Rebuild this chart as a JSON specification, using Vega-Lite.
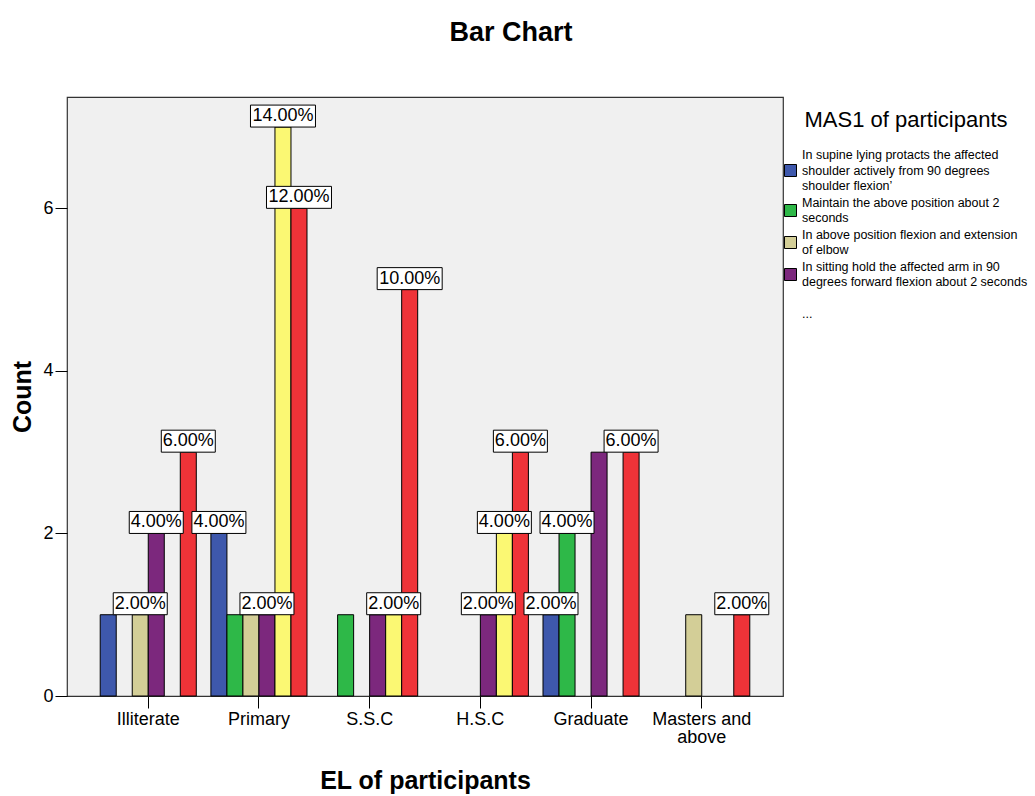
{
  "$schema": "https://vega.github.io/schema/vega-lite/v6.json",
  "width": 716,
  "height": 599,
  "autosize": {"type": "none"},
  "padding": {"left": 67, "top": 97, "right": 252, "bottom": 100},
  "background": "white",
  "title": {"text": "Bar Chart", "fontSize": 27, "fontWeight": "bold", "color": "black", "anchor": "middle", "frame": "group", "dx": 86, "baseline": "alphabetic", "offset": 29},
  "data": {"values": [
    {"el": "Illiterate", "mas": "In supine lying protacts the affected shoulder actively from 90 degrees shoulder flexion", "count": 1, "label": ""},
    {"el": "Illiterate", "mas": "In above position flexion and extension of elbow", "count": 1, "label": "2.00%"},
    {"el": "Illiterate", "mas": "In sitting hold the affected arm in 90 degrees forward flexion about 2 seconds", "count": 2, "label": "4.00%"},
    {"el": "Illiterate", "mas": "In standing hand against wall maintain arm position while turning body toward wall", "count": 3, "label": "6.00%"},
    {"el": "Primary", "mas": "In supine lying protacts the affected shoulder actively from 90 degrees shoulder flexion", "count": 2, "label": "4.00%"},
    {"el": "Primary", "mas": "Maintain the above position about 2 seconds", "count": 1, "label": ""},
    {"el": "Primary", "mas": "In above position flexion and extension of elbow", "count": 1, "label": ""},
    {"el": "Primary", "mas": "In sitting hold the affected arm in 90 degrees forward flexion about 2 seconds", "count": 1, "label": "2.00%"},
    {"el": "Primary", "mas": "In sitting lift the affected arm to above position hold 10 seconds and lower it", "count": 7, "label": "14.00%"},
    {"el": "Primary", "mas": "In standing hand against wall maintain arm position while turning body toward wall", "count": 6, "label": "12.00%"},
    {"el": "S.S.C", "mas": "Maintain the above position about 2 seconds", "count": 1, "label": ""},
    {"el": "S.S.C", "mas": "In sitting hold the affected arm in 90 degrees forward flexion about 2 seconds", "count": 1, "label": ""},
    {"el": "S.S.C", "mas": "In sitting lift the affected arm to above position hold 10 seconds and lower it", "count": 1, "label": "2.00%"},
    {"el": "S.S.C", "mas": "In standing hand against wall maintain arm position while turning body toward wall", "count": 5, "label": "10.00%"},
    {"el": "H.S.C", "mas": "In sitting hold the affected arm in 90 degrees forward flexion about 2 seconds", "count": 1, "label": "2.00%"},
    {"el": "H.S.C", "mas": "In sitting lift the affected arm to above position hold 10 seconds and lower it", "count": 2, "label": "4.00%"},
    {"el": "H.S.C", "mas": "In standing hand against wall maintain arm position while turning body toward wall", "count": 3, "label": "6.00%"},
    {"el": "Graduate", "mas": "In supine lying protacts the affected shoulder actively from 90 degrees shoulder flexion", "count": 1, "label": "2.00%"},
    {"el": "Graduate", "mas": "Maintain the above position about 2 seconds", "count": 2, "label": "4.00%"},
    {"el": "Graduate", "mas": "In sitting hold the affected arm in 90 degrees forward flexion about 2 seconds", "count": 3, "label": ""},
    {"el": "Graduate", "mas": "In standing hand against wall maintain arm position while turning body toward wall", "count": 3, "label": "6.00%"},
    {"el": "Masters and above", "mas": "In above position flexion and extension of elbow", "count": 1, "label": ""},
    {"el": "Masters and above", "mas": "In standing hand against wall maintain arm position while turning body toward wall", "count": 1, "label": "2.00%"}
  ]},
  "encoding": {
    "x": {
      "field": "el", "type": "nominal",
      "sort": ["Illiterate", "Primary", "S.S.C", "H.S.C", "Graduate", "Masters and above"],
      "scale": {"paddingInner": 0.132, "paddingOuter": 0.3},
      "axis": {
        "title": "EL of participants", "titleFontSize": 25, "titleFontWeight": "bold", "titleColor": "black",
        "titleX": 358, "titleY": 92, "titleBaseline": "alphabetic", "titleAlign": "center",
        "labelAngle": 0, "labelFontSize": 18, "labelColor": "black", "labelPadding": 2, "labelLineHeight": 18,
        "labelExpr": "datum.label == 'Masters and above' ? ['Masters and', 'above'] : datum.label",
        "tickSize": 12, "tickColor": "black", "domain": false, "grid": false
      }
    },
    "xOffset": {
      "field": "mas", "type": "nominal",
      "scale": {"domain": [
        "In supine lying protacts the affected shoulder actively from 90 degrees shoulder flexion",
        "Maintain the above position about 2 seconds",
        "In above position flexion and extension of elbow",
        "In sitting hold the affected arm in 90 degrees forward flexion about 2 seconds",
        "In sitting lift the affected arm to above position hold 10 seconds and lower it",
        "In standing hand against wall maintain arm position while turning body toward wall"
      ], "paddingInner": 0, "paddingOuter": 0}
    },
    "y": {
      "field": "count", "type": "quantitative",
      "scale": {"domain": [0, 7.37], "nice": false},
      "axis": {
        "title": "Count", "titleFontSize": 25, "titleFontWeight": "bold", "titleColor": "black",
        "titleX": -37, "titleY": 299.5, "titleBaseline": "alphabetic", "titleAlign": "center", "titleAngle": -90,
        "values": [0, 2, 4, 6], "labelFontSize": 18, "labelColor": "black", "labelPadding": 2,
        "tickSize": 12, "tickColor": "black", "domain": false, "grid": false
      }
    }
  },
  "layer": [
    {
      "mark": {"type": "bar", "stroke": "black", "strokeWidth": 1},
      "encoding": {
        "color": {
          "field": "mas", "type": "nominal",
          "scale": {
            "domain": [
              "In supine lying protacts the affected shoulder actively from 90 degrees shoulder flexion",
              "Maintain the above position about 2 seconds",
              "In above position flexion and extension of elbow",
              "In sitting hold the affected arm in 90 degrees forward flexion about 2 seconds",
              "In sitting lift the affected arm to above position hold 10 seconds and lower it",
              "In standing hand against wall maintain arm position while turning body toward wall"
            ],
            "range": ["#3E58AC", "#2EB848", "#D3CE97", "#7C287D", "#FBF873", "#EF3338"]
          },
          "legend": {
            "orient": "none", "legendX": 717, "legendY": 13,
            "title": "MAS1 of participants", "titleFontSize": 22, "titleFontWeight": "normal", "titleColor": "black",
            "titleAnchor": "middle", "titlePadding": 32, "titleLimit": 400, "titleBaseline": "top",
            "symbolType": "square", "symbolSize": 144, "symbolStrokeColor": "black", "symbolStrokeWidth": 1, "symbolOpacity": 1,
            "labelFontSize": 12.5, "labelOffset": 5, "labelLimit": 300, "labelColor": "black", "rowPadding": 3,
            "values": [
              "In supine lying protacts the affected shoulder actively from 90 degrees shoulder flexion",
              "Maintain the above position about 2 seconds",
              "In above position flexion and extension of elbow",
              "In sitting hold the affected arm in 90 degrees forward flexion about 2 seconds",
              "In sitting lift the affected arm to above position hold 10 seconds and lower it"
            ],
            "labelExpr": "indexof(datum.label, 'In supine') == 0 ? ['In supine lying protacts the affected', 'shoulder actively from 90 degrees', 'shoulder flexion’'] : indexof(datum.label, 'Maintain') == 0 ? ['Maintain the above position about 2', 'seconds'] : indexof(datum.label, 'In above') == 0 ? ['In above position flexion and extension', 'of elbow'] : indexof(datum.label, 'In sitting hold') == 0 ? ['In sitting hold the affected arm in 90', 'degrees forward flexion about 2 seconds'] : ['', '...']",
            "encode": {
              "symbols": {"update": {"opacity": {"signal": "indexof(datum.label, 'In sitting lift') == 0 ? 0 : 1"}}},
              "labels": {"update": {
                "lineHeight": {"value": 15.5},
                "dy": {"signal": "indexof(datum.label, 'In supine') == 0 ? -15.5 : -7.75"}
              }}
            }
          }
        }
      }
    },
    {
      "transform": [{"filter": "length(datum.label) == 5"}],
      "mark": {"type": "point", "shape": "M-1,-0.407H1V0.407H-1Z", "size": 2916, "filled": true, "fill": "white", "stroke": "black", "strokeWidth": 1, "opacity": 1, "yOffset": -11}
    },
    {
      "transform": [{"filter": "length(datum.label) == 6"}],
      "mark": {"type": "point", "shape": "M-1,-0.338H1V0.338H-1Z", "size": 4225, "filled": true, "fill": "white", "stroke": "black", "strokeWidth": 1, "opacity": 1, "yOffset": -11}
    },
    {
      "transform": [{"filter": "length(datum.label) > 0"}],
      "mark": {"type": "text", "fontSize": 18, "color": "black", "baseline": "middle", "align": "center", "yOffset": -11},
      "encoding": {"text": {"field": "label"}}
    }
  ],
  "config": {
    "font": "Liberation Sans",
    "view": {"fill": "#F0F0F0", "stroke": "#333333", "strokeWidth": 1.2},
    "axis": {"labelFont": "Liberation Sans", "titleFont": "Liberation Sans"},
    "legend": {"labelFont": "Liberation Sans", "titleFont": "Liberation Sans"},
    "title": {"font": "Liberation Sans"}
  }
}
